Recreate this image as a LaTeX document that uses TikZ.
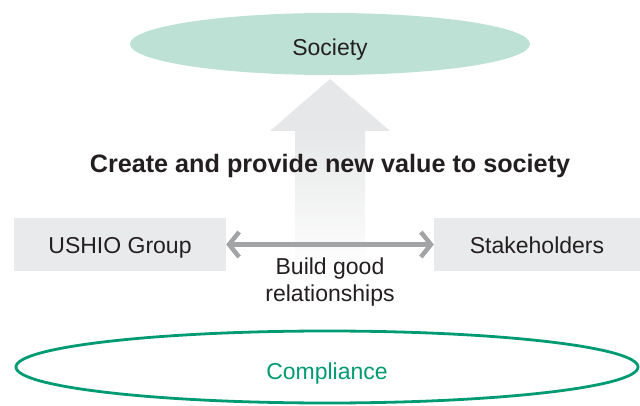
\documentclass[tikz,border=0pt]{standalone}
\usepackage{fontspec}
\setmainfont{Liberation Sans}
\usetikzlibrary{shapes.geometric,arrows.meta}

\definecolor{mintfill}{HTML}{BDE1D5}
\definecolor{boxgrey}{HTML}{E9EAEB}
\definecolor{arrowgrey}{HTML}{E6E7E8}
\definecolor{linkgrey}{HTML}{A3A4A6}
\definecolor{compgreen}{HTML}{009B72}
\definecolor{textdark}{HTML}{231F20}

\begin{document}
\begin{tikzpicture}[x=1pt,y=-1pt,
  every node/.style = {text=textdark, font=\fontsize{23}{26.5}\selectfont},
  Oval/.style = {ellipse, inner sep=0pt, text depth=0pt},
  PartyBox/.style = {rectangle, fill=boxgrey, minimum height=53pt, inner sep=0pt,
                     text height=18.5pt, text depth=0pt},
  LinkArrow/.style = {draw=linkgrey, line width=4.5pt,
                      {Straight Barb[length=10pt,width=25pt]}-{Straight Barb[length=10pt,width=25pt]}}]
  \useasboundingbox (0,0) rectangle (640,406);
% big upward arrow
  \shade[top color=arrowgrey, bottom color=white] (295,131) rectangle (365,271);
  \fill[arrowgrey] (270,131) -- (330,79) -- (390,131) -- cycle;
% nodes
  \node[Oval, fill=mintfill, minimum width=400pt, minimum height=62pt,
        text height=23.9pt] (society) at (330,44) {Society};
  \node[font=\fontsize{25.2}{29}\selectfont\bfseries, anchor=base] (value) at (330,173)
        {Create and provide new value to society};
  \node[PartyBox, minimum width=212pt] (group) at (120,244.5) {USHIO Group};
  \node[PartyBox, minimum width=206pt] (stake) at (537,244.5) {Stakeholders};
  \node[align=center] (build) at (330,282) {Build good\\relationships};
  \node[Oval, draw=compgreen, line width=2.8pt, minimum width=622pt, minimum height=72pt,
        text height=25.5pt, text=compgreen] (comply) at (327,367) {Compliance};
% connector
  \draw[LinkArrow] (group.east) -- (stake.west);
\end{tikzpicture}
\end{document}
